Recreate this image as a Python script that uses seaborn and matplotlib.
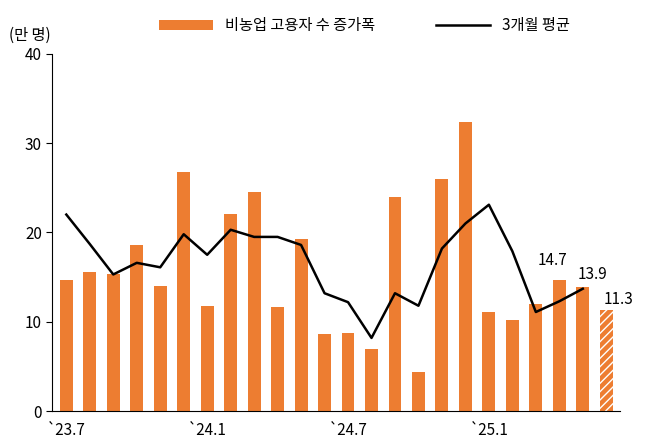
import matplotlib
matplotlib.use("Agg")
import matplotlib.pyplot as plt
import seaborn as sns
import pandas as pd
import numpy as np

plt.rcParams["font.family"] = ["Noto Sans CJK KR", "Noto Sans CJK JP", "Noto Sans CJK SC", "DejaVu Sans"]
plt.rcParams["axes.unicode_minus"] = False

months = ["23.7","23.8","23.9","23.10","23.11","23.12","24.1","24.2","24.3","24.4","24.5","24.6",
          "24.7","24.8","24.9","24.10","24.11","24.12","25.1","25.2","25.3","25.4","25.5","25.6"]
bars = [14.7,15.6,15.4,18.6,14.0,26.8,11.8,22.1,24.5,11.7,19.3,8.6,
        8.7,7.0,24.0,4.4,26.0,32.3,11.1,10.2,12.0,14.7,13.9,11.3]
avg3 = [22.0,18.7,15.3,16.6,16.1,19.8,17.5,20.3,19.5,19.5,18.6,13.2,
        12.2,8.2,13.2,11.8,18.2,21.0,23.1,17.9,11.1,12.3,13.7]
tick_labels = {"23.7":"`23.7","24.1":"`24.1","24.7":"`24.7","25.1":"`25.1"}

df = pd.DataFrame({"month": months, "bar": bars})
orange = "#ED7D31"
fig, ax = plt.subplots(figsize=(6.53, 4.47), dpi=100)
sns.barplot(data=df, x="month", y="bar", color=orange, width=0.55, ax=ax,
            saturation=1, label="비농업 고용자 수 증가폭")
last = ax.patches[len(months)-1]
last.set_hatch("////"); last.set_edgecolor("white"); last.set_linewidth(0)
x = np.arange(len(avg3))
sns.lineplot(x=x, y=avg3, color="black", lw=1.8, ax=ax, label="3개월 평균")

ax.text(21 - 0.3, bars[21] + 1.2, f"{bars[21]}", ha="center", va="bottom", fontsize=11)
ax.text(22 + 0.4, bars[22] + 0.5, f"{bars[22]}", ha="center", va="bottom", fontsize=11)
ax.text(23 + 0.5, bars[23] + 0.3, f"{bars[23]}", ha="center", va="bottom", fontsize=11)

ax.set_ylim(0, 40)
ax.set_yticks([0, 10, 20, 30, 40])
ax.set_xlim(-0.6, len(months) - 0.4)
ax.set_xticks([i for i, m in enumerate(months) if m in tick_labels])
ax.set_xticklabels([tick_labels[m] for m in months if m in tick_labels])
ax.set_xlabel(""); ax.set_ylabel("")
ax.tick_params(axis="both", labelsize=11, length=4)
ax.tick_params(axis="x", length=0, pad=8)
for s in ["top", "right"]:
    ax.spines[s].set_visible(False)
ax.text(-0.04, 1.04, "(만 명)", transform=ax.transAxes, fontsize=11, ha="center")
h, l = ax.get_legend_handles_labels()
order = [l.index("비농업 고용자 수 증가폭"), l.index("3개월 평균")]
ax.legend([h[i] for i in order], [l[i] for i in order], loc="upper center",
          bbox_to_anchor=(0.55, 1.14), ncol=2, frameon=False,
          fontsize=11, handlelength=3.5, columnspacing=4)
plt.subplots_adjust(left=0.08, right=0.95, top=0.88, bottom=0.08)
fig.savefig("out.png", dpi=100)
